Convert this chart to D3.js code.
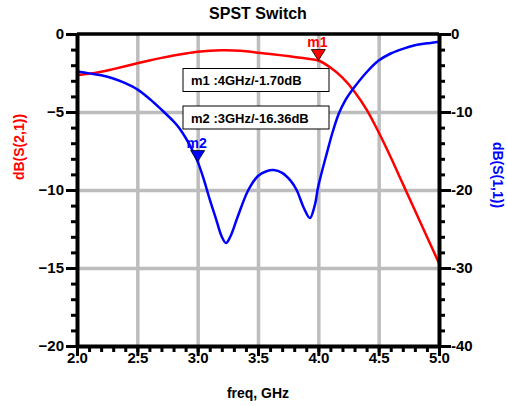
<!DOCTYPE html>
<html>
<head>
<meta charset="utf-8">
<script src="https://cdn.jsdelivr.net/npm/d3@7"></script>
<style>
  body { margin: 0; background: #fff; }
  svg { font-family: "Liberation Sans", Arial, sans-serif; font-weight: bold; }
</style>
</head>
<body>
<div id="chart"></div>
<script>
// S21 (left axis)
var s21Freq = [2.0, 2.1, 2.2, 2.3, 2.4, 2.5, 2.6, 2.7, 2.8, 2.9, 3.0, 3.1, 3.2, 3.3, 3.4, 3.5,
               3.6, 3.7, 3.8, 3.9, 4.0, 4.1, 4.2, 4.3, 4.4, 4.5, 4.6, 4.7, 4.8, 4.9, 5.0];
var s21Db = [-2.63, -2.55, -2.42, -2.25, -2.07, -1.88, -1.7, -1.53, -1.38, -1.25, -1.14, -1.07, -1.04, -1.05, -1.1, -1.2,
             -1.28, -1.37, -1.47, -1.57, -1.70, -2.15, -2.8, -3.7, -4.85, -6.3, -7.9, -9.6, -11.3, -13.0, -14.7];

// S11 (right axis)
var s11Freq = [2.0, 2.1, 2.2, 2.3, 2.4, 2.5, 2.6, 2.7, 2.8, 2.85, 2.9, 2.95, 3.0, 3.05, 3.1, 3.15, 3.2, 3.235, 3.27, 3.33, 3.42,
               3.5, 3.57, 3.63, 3.7, 3.77, 3.82, 3.88, 3.93, 3.97, 4.0, 4.07, 4.12, 4.17, 4.22, 4.29, 4.4,
               4.5, 4.6, 4.7, 4.8, 4.9, 5.0];
var s11Db = [-4.8, -5.05, -5.3, -5.7, -6.3, -7.1, -8.3, -9.7, -11.2, -12.1, -13.3, -14.7, -16.36, -18.6, -21.2, -23.6, -26.0, -26.8, -26.0, -23.5, -20.0,
             -18.2, -17.6, -17.45, -17.8, -18.8, -20.0, -22.3, -23.6, -22.0, -19.5, -15.3, -12.5, -10.2, -8.6, -7.0, -4.9,
             -3.4, -2.5, -1.9, -1.45, -1.2, -0.98];

var xTicks = [2.0, 2.5, 3.0, 3.5, 4.0, 4.5, 5.0];
var leftTicks = [0, -5, -10, -15, -20];
var rightTicks = [0, -10, -20, -30, -40];

var markerNames = ["m1", "m2"];
var markerFreq = [4, 3];
var markerDb = [-1.70, -16.36];
var markerSeries = ["s21", "s11"];

var width = 507, height = 406;
var pLeft = 77, pRight = 439, pTop = 34, pBottom = 346;

var svg = d3.select("#chart").append("svg")
    .attr("width", width)
    .attr("height", height);

var x = d3.scaleLinear().domain([2, 5]).range([pLeft, pRight]);
var yL = d3.scaleLinear().domain([-20, 0]).range([pBottom, pTop]);
var yR = d3.scaleLinear().domain([-40, 0]).range([pBottom, pTop]);

// grid
svg.append("g")
    .attr("transform", "translate(0," + pBottom + ")")
    .call(d3.axisBottom(x).tickValues([2.5, 3, 3.5, 4, 4.5]).tickSize(-(pBottom - pTop)).tickFormat(""))
    .call(function(g) { g.select(".domain").remove(); })
    .selectAll("line").attr("stroke", "#bdbdbd").attr("stroke-width", 3.5);

svg.append("g")
    .attr("transform", "translate(" + pLeft + ",0)")
    .call(d3.axisLeft(yL).tickValues([-5, -10, -15]).tickSize(-(pRight - pLeft)).tickFormat(""))
    .call(function(g) { g.select(".domain").remove(); })
    .selectAll("line").attr("stroke", "#bdbdbd").attr("stroke-width", 3.5);

// curves
var line21 = d3.line()
    .x(function(d, i) { return x(s21Freq[i]); })
    .y(function(d) { return yL(d); })
    .curve(d3.curveCatmullRom);

var line11 = d3.line()
    .x(function(d, i) { return x(s11Freq[i]); })
    .y(function(d) { return yR(d); })
    .curve(d3.curveCatmullRom);

svg.append("path")
    .attr("d", line21(s21Db))
    .attr("fill", "none")
    .attr("stroke", "#ff0000")
    .attr("stroke-width", 2.5);

svg.append("path")
    .attr("d", line11(s11Db))
    .attr("fill", "none")
    .attr("stroke", "#0000ff")
    .attr("stroke-width", 2.5);

// top frame
svg.append("line")
    .attr("x1", pLeft).attr("x2", pRight)
    .attr("y1", pTop).attr("y2", pTop)
    .attr("stroke", "#000").attr("stroke-width", 3.5);

// minor ticks
svg.append("g")
    .attr("transform", "translate(0," + pBottom + ")")
    .call(d3.axisBottom(x).tickValues(d3.range(21, 50).map(function(v) { return v / 10; })).tickSize(6).tickFormat("").tickSizeOuter(0))
    .call(function(g) { g.select(".domain").remove(); })
    .selectAll("line").attr("stroke", "#000").attr("stroke-width", 3);

svg.append("g")
    .attr("transform", "translate(" + pLeft + ",0)")
    .call(d3.axisLeft(yL).tickValues(d3.range(-19, 0)).tickSize(6).tickFormat("").tickSizeOuter(0))
    .call(function(g) { g.select(".domain").remove(); })
    .selectAll("line").attr("stroke", "#000").attr("stroke-width", 3);

svg.append("g")
    .attr("transform", "translate(" + pRight + ",0)")
    .call(d3.axisRight(yR).tickValues(d3.range(-38, 0, 2)).tickSize(6).tickFormat("").tickSizeOuter(0))
    .call(function(g) { g.select(".domain").remove(); })
    .selectAll("line").attr("stroke", "#000").attr("stroke-width", 3);

// major axes
var xAxis = svg.append("g")
    .attr("transform", "translate(0," + pBottom + ")")
    .call(d3.axisBottom(x).tickValues(xTicks).tickSize(10).tickSizeOuter(0).tickFormat(d3.format(".1f")));
xAxis.selectAll("text").attr("y", 6);

var lAxis = svg.append("g")
    .attr("transform", "translate(" + pLeft + ",0)")
    .call(d3.axisLeft(yL).tickValues(leftTicks).tickSize(11).tickPadding(2).tickSizeOuter(0));

var rAxis = svg.append("g")
    .attr("transform", "translate(" + pRight + ",0)")
    .call(d3.axisRight(yR).tickValues(rightTicks).tickSize(12).tickPadding(0).tickSizeOuter(0)
        .tickFormat(function(d) { return d === 0 ? "0" : "-" + Math.abs(d); }));

[xAxis, lAxis, rAxis].forEach(function(g) {
    g.select(".domain").attr("stroke-width", 4);
    g.selectAll(".tick line").attr("stroke-width", 3);
    g.selectAll("text")
        .attr("fill", "#000")
        .style("font-size", "15px")
        .style("font-weight", "bold")
        .style("font-family", "'Liberation Sans', Arial, sans-serif");
});

// titles
svg.append("text")
    .attr("x", 258).attr("y", 19)
    .attr("text-anchor", "middle")
    .style("font-size", "16px")
    .text("SPST Switch");

svg.append("text")
    .attr("x", 258).attr("y", 398)
    .attr("text-anchor", "middle")
    .style("font-size", "14px")
    .text("freq, GHz");

svg.append("text")
    .attr("transform", "translate(18.5,147) rotate(-90)")
    .attr("text-anchor", "middle")
    .attr("dominant-baseline", "central")
    .attr("fill", "#ff0000")
    .style("font-size", "14px")
    .text("dB(S(2,1))");

svg.append("text")
    .attr("transform", "translate(498,175) rotate(90)")
    .attr("text-anchor", "middle")
    .attr("dominant-baseline", "central")
    .attr("fill", "#0000ff")
    .style("font-size", "14px")
    .text("dB(S(1,1))");

// markers
markerNames.forEach(function(name, i) {
    var px = x(markerFreq[i]);
    var py = markerSeries[i] === "s21" ? yL(markerDb[i]) : yR(markerDb[i]);
    var col = markerSeries[i] === "s21" ? "#ff0000" : "#0000ff";
    svg.append("path")
        .attr("d", "M" + px + "," + py + "L" + (px - 7) + "," + (py - 11) + "L" + (px + 7) + "," + (py - 11) + "Z")
        .attr("fill", col)
        .attr("stroke", "#000")
        .attr("stroke-width", 0.8);
    svg.append("text")
        .attr("x", px - 1).attr("y", py - 13.5)
        .attr("text-anchor", "middle")
        .attr("fill", col)
        .style("font-size", "14px")
        .text(name);

    var by = i === 0 ? 68.5 : 106;
    svg.append("rect")
        .attr("x", 183).attr("y", by)
        .attr("width", 146).attr("height", 23)
        .attr("fill", "#fff")
        .attr("stroke", "#000")
        .attr("stroke-width", 1);
    svg.append("text")
        .attr("x", 191).attr("y", by + 16.5)
        .style("font-size", "13px")
        .text(name + " :" + markerFreq[i] + "GHz/" + markerDb[i].toFixed(2) + "dB");
});
</script>
</body>
</html>
